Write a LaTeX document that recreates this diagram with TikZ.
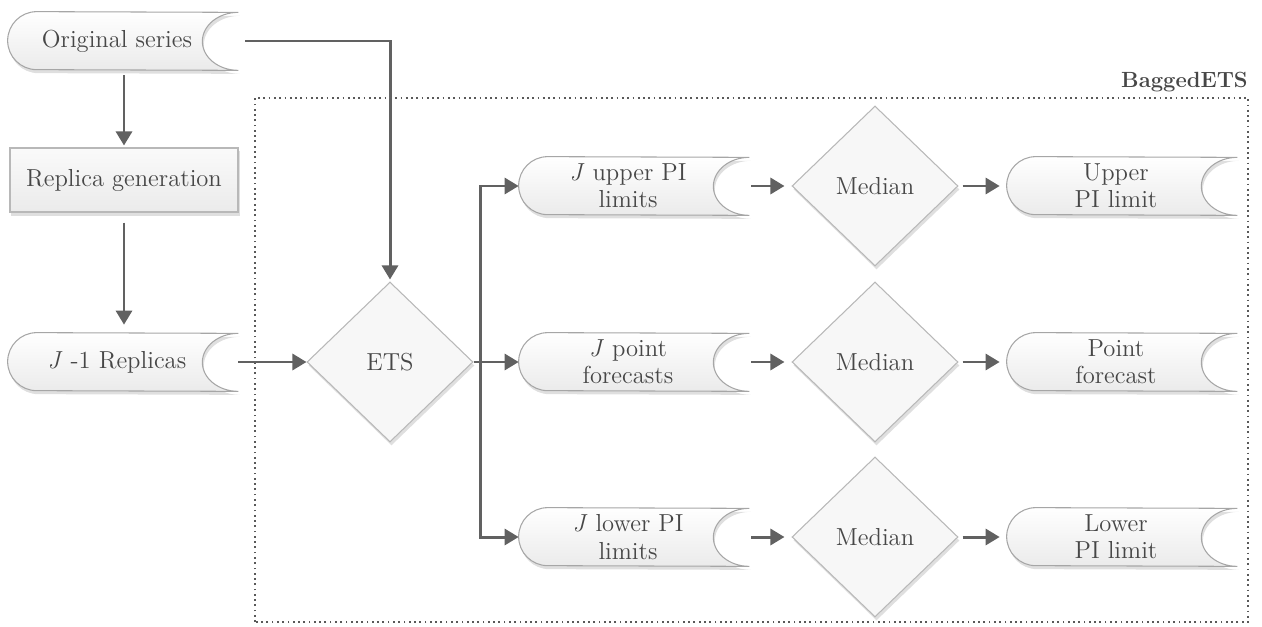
\documentclass[tikz,border=0pt]{standalone}
\usepackage{tikz}
\usetikzlibrary{shapes.geometric,backgrounds,shadows,arrows.meta}

\begin{document}
\begin{tikzpicture}[
    every node/.style={font=\fontsize{14}{15.5}\selectfont, text=black!72, align=center},
    store/.style={rectangle, minimum width=4.36cm, minimum height=1.16cm, inner sep=0pt},
    storeline/.style={draw=black!35, line width=0.6pt, top color=white, bottom color=black!8,
        drop shadow={opacity=0.25, shadow xshift=0.03cm, shadow yshift=-0.07cm}},
    decision/.style={diamond, draw=black!28, line width=0.6pt, fill=black!3, minimum width=3.32cm, minimum height=3.2cm, inner sep=0pt,
        drop shadow={opacity=0.25, shadow xshift=0.03cm, shadow yshift=-0.07cm}},
    process/.style={rectangle, draw=black!28, line width=0.6pt, top color=black!2, bottom color=black!8, minimum width=4.56cm, minimum height=1.28cm,
        drop shadow={opacity=0.25, shadow xshift=0.03cm, shadow yshift=-0.07cm}},
    flow/.style={-{Triangle[length=0.28cm, width=0.32cm]}, draw=black!62, line width=1.7pt}
]

    \useasboundingbox (0,0) rectangle (25.24,12.52);

    % Left column
    \node[store] (orig) at (2.34,11.70) {Original series};
    \node[process] (repgen) at (2.48,8.92) {Replica generation};
    \node[store] (reps) at (2.34,5.28) {\textit{J} -1 Replicas};

    % Bagging part
    \draw[dotted, draw=black!65, line width=1pt] (5.10,0.08) rectangle (24.96,10.56);
    \node[anchor=base east, inner sep=0pt, font=\fontsize{12.5}{14}\selectfont\bfseries, text=black!72] (bagged) at (24.96,10.76) {BaggedETS};

    \node[decision] (ets) at (7.80,5.28) {ETS};

    \node[store] (jup) at (12.56,8.80) {\textit{J} upper PI\\limits};
    \node[store] (jpt) at (12.56,5.28) {\textit{J} point\\forecasts};
    \node[store] (jlo) at (12.56,1.78) {\textit{J} lower PI\\limits};

    \node[decision] (medup) at (17.50,8.80) {Median};
    \node[decision] (medpt) at (17.50,5.28) {Median};
    \node[decision] (medlo) at (17.50,1.78) {Median};

    \node[store] (up) at (22.32,8.80) {Upper\\PI limit};
    \node[store] (pt) at (22.32,5.28) {Point\\forecast};
    \node[store] (lo) at (22.32,1.78) {Lower\\PI limit};

    % Stored data outlines behind the texts
    \begin{scope}[on background layer]
        \foreach \n in {orig,reps,jup,jpt,jlo,up,pt,lo}
            \path[storeline] ([xshift=0.58cm]\n.north west) arc[start angle=90, end angle=270, radius=0.58cm]
                -- ([xshift=0.24cm]\n.south east) arc[start angle=270, end angle=90, x radius=0.72cm, y radius=0.58cm] -- cycle;
    \end{scope}

    % Arrows
    \draw[flow, shorten <=0.1cm, shorten >=0.04cm] (repgen |- orig.south) -- (repgen.north);
    \draw[flow, shorten <=0.2cm, shorten >=0.16cm] (repgen.south) -- (repgen |- reps.north);
    \draw[flow] ([xshift=0.38cm]orig.east) -| ([yshift=0.04cm]ets.north);
    \draw[flow] ([xshift=0.24cm]reps.east) -- (ets);

    \draw[draw=black!62, line width=1.7pt] (ets.east) -- ++(0.14,0) coordinate (fork);
    \draw[flow] (fork) |- (jup.west);
    \draw[flow] (fork) -- (jpt.west);
    \draw[flow] (fork) |- (jlo.west);

    \foreach \a/\b/\c in {jup/medup/up, jpt/medpt/pt, jlo/medlo/lo} {
        \draw[flow, shorten >=0.14cm] ([xshift=0.28cm]\a.east) -- (\b.west);
        \draw[flow, shorten <=0.08cm, shorten >=0.14cm] (\b.east) -- (\c.west);
    }

\end{tikzpicture}
\end{document}
